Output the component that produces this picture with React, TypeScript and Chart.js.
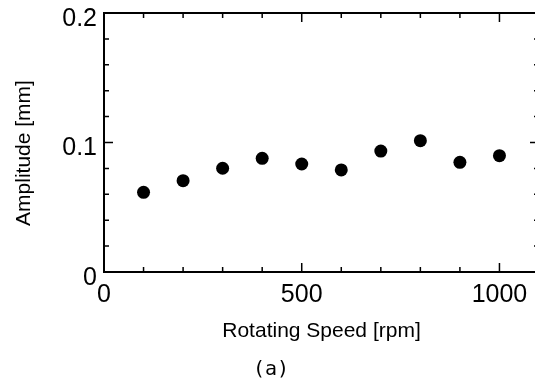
import React, { useEffect, useRef } from "react";
import { Chart, registerables } from "chart.js";

Chart.register(...registerables);

const speeds = [100, 200, 300, 400, 500, 600, 700, 800, 900, 1000];
const amplitudes = [0.0615, 0.0705, 0.0801, 0.0878, 0.0834, 0.0788, 0.0934, 0.1014, 0.0847, 0.0898];
const xMajorTicks = [0, 500, 1000];
const yMajorTicks = [0, 0.1, 0.2];
const xTitle = "Rotating Speed [rpm]";
const yTitle = "Amplitude [mm]";
const caption = "(a)";

const FONT = "'Liberation Sans', Arial, sans-serif";

const framePlugin = {
  id: "framePlugin",
  afterDatasetsDraw(chart: any) {
    const { ctx, chartArea, scales } = chart;
    const { left, right, top, bottom } = chartArea;
    const xs = scales.x;
    const ys = scales.y;
    ctx.save();
    ctx.strokeStyle = "#000";
    ctx.lineWidth = 2;
    ctx.strokeRect(left, top, right - left, bottom - top);
    ctx.lineWidth = 1.5;
    for (let v = 0; v <= 1100; v += 100) {
      const px = xs.getPixelForValue(v);
      const len = v % 500 === 0 ? 9 : 5;
      ctx.beginPath();
      ctx.moveTo(px, bottom);
      ctx.lineTo(px, bottom - len);
      ctx.moveTo(px, top);
      ctx.lineTo(px, top + len);
      ctx.stroke();
    }
    for (let i = 0; i <= 10; i++) {
      const v = i * 0.02;
      const py = ys.getPixelForValue(v);
      const len = i % 5 === 0 ? 9 : 5;
      ctx.beginPath();
      ctx.moveTo(left, py);
      ctx.lineTo(left + len, py);
      ctx.moveTo(right, py);
      ctx.lineTo(right - len, py);
      ctx.stroke();
    }
    ctx.fillStyle = "#000";
    ctx.font = `21px ${FONT}`;
    ctx.textAlign = "center";
    ctx.textBaseline = "middle";
    ctx.translate(24, 153);
    ctx.rotate(-Math.PI / 2);
    ctx.fillText(yTitle, 0, 0);
    ctx.restore();
  },
};

export default function App() {
  const ref = useRef<HTMLCanvasElement>(null);
  useEffect(() => {
    document.body.style.margin = "0";
    const canvas = ref.current!;
    const chart = new Chart(canvas, {
      type: "scatter",
      data: {
        datasets: [
          {
            data: speeds.map((s, i) => ({ x: s, y: amplitudes[i] })),
            backgroundColor: "#000",
            borderColor: "#000",
            borderWidth: 0,
            pointRadius: 6.5,
          },
        ],
      },
      options: {
        animation: false,
        responsive: false,
        devicePixelRatio: 1,
        layout: { autoPadding: false, padding: { top: 13, right: 8, left: 0, bottom: 0 } },
        plugins: {
          legend: { display: false },
          tooltip: { enabled: false },
          title: {
            display: true,
            text: caption,
            position: "bottom",
            color: "#000",
            font: { family: "'DejaVu Sans Mono', monospace", size: 20, weight: "normal", lineHeight: 1.2 },
            padding: { top: 0, bottom: 2 },
          },
        },
        scales: {
          x: {
            type: "linear",
            min: 0,
            max: 1100,
            border: { display: false },
            grid: { display: false, drawTicks: false },
            ticks: {
              stepSize: 100,
              autoSkip: false,
              maxRotation: 0,
              padding: 11,
              color: "#000",
              font: { family: FONT, size: 25, lineHeight: 1 },
              callback: (v: any) => (xMajorTicks.includes(Number(v)) ? String(v) : ""),
            },
            title: {
              display: true,
              text: xTitle,
              color: "#000",
              font: { family: FONT, size: 21, lineHeight: 1.2 },
              padding: { top: 0, bottom: 14 },
            },
            afterFit: (scale: any) => {
              scale.height = 86;
            },
          },
          y: {
            type: "linear",
            min: 0,
            max: 0.2,
            border: { display: false },
            grid: { display: false, drawTicks: false },
            ticks: {
              stepSize: 0.1,
              autoSkip: false,
              padding: 7,
              labelOffset: 6,
              color: "#000",
              font: { family: FONT, size: 25, lineHeight: 0.4 },
              callback: (v: any) => {
                const n = Math.round(Number(v) * 10) / 10;
                return yMajorTicks.includes(n) ? (n === 0 ? "0" : n.toFixed(1)) : "";
              },
            },
            title: { display: false },
            afterFit: (scale: any) => {
              scale.width = 104;
            },
          },
        },
      },
      plugins: [framePlugin],
    });
    return () => chart.destroy();
  }, []);
  return (
    <div style={{ position: "absolute", left: 0, top: 0, width: 535, height: 384, overflow: "hidden", background: "#fff" }}>
      <canvas ref={ref} width={550} height={384} style={{ display: "block" }} />
    </div>
  );
}
